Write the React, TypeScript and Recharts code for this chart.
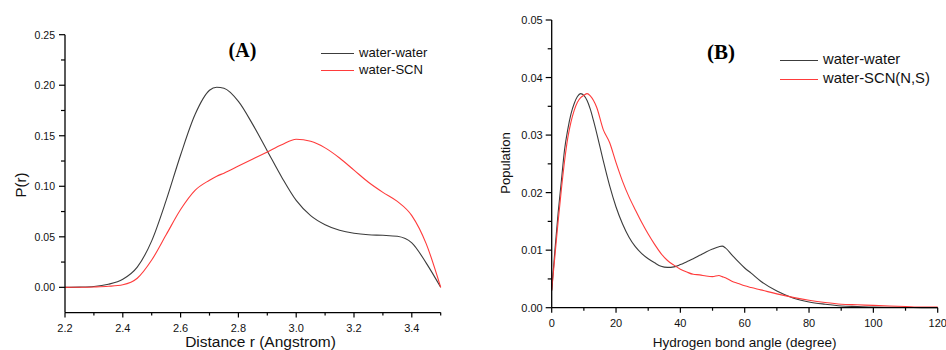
import React from 'react';
import { LineChart, Line, XAxis, YAxis } from 'recharts';

// ---------- Panel A: distance distribution ----------
const distA = [2.2, 2.25, 2.3, 2.35, 2.4, 2.45, 2.5, 2.55, 2.6, 2.65, 2.7, 2.725, 2.75, 2.8, 2.85, 2.9, 2.95, 3.0, 3.05, 3.1, 3.15, 3.2, 3.25, 3.3, 3.35, 3.4, 3.45, 3.5];
const waterWaterA = [0, 0.0002, 0.0008, 0.003, 0.008, 0.02, 0.046, 0.086, 0.131, 0.171, 0.195, 0.198, 0.197, 0.184, 0.161, 0.135, 0.109, 0.086, 0.071, 0.062, 0.0565, 0.0535, 0.052, 0.0515, 0.0505, 0.044, 0.024, 0];
const waterScnA = [0, 0.0001, 0.0004, 0.001, 0.0025, 0.009, 0.027, 0.052, 0.077, 0.096, 0.106, 0.11, 0.113, 0.12, 0.127, 0.134, 0.141, 0.1465, 0.1445, 0.138, 0.128, 0.116, 0.104, 0.094, 0.085, 0.071, 0.043, 0];

const xMajorA = [2.2, 2.4, 2.6, 2.8, 3.0, 3.2, 3.4];
const xMinorA = [2.3, 2.5, 2.7, 2.9, 3.1, 3.3, 3.5];
const yMajorA = [0, 0.05, 0.1, 0.15, 0.2, 0.25];
const yMinorA = [0.025, 0.075, 0.125, 0.175, 0.225];

// ---------- Panel B: hydrogen bond angle distribution ----------
const angleB = [0, 1, 2, 3, 4, 5, 6, 7, 8, 9, 10, 11, 12, 13, 14, 16, 18, 20, 22, 24, 26, 28, 30, 32, 34, 36, 38, 40, 42, 44, 46, 48, 50, 52, 53, 54, 56, 58, 60, 62, 65, 70, 75, 80, 85, 90, 95, 100, 105, 110, 115, 120];
const waterWaterB = [0.003, 0.01, 0.0165, 0.022, 0.0275, 0.031, 0.0337, 0.0355, 0.0367, 0.0372, 0.0369, 0.036, 0.0345, 0.0325, 0.0303, 0.0256, 0.0212, 0.0175, 0.0146, 0.0123, 0.0106, 0.0094, 0.0085, 0.0078, 0.0072, 0.007, 0.0071, 0.0075, 0.008, 0.0085, 0.0091, 0.0097, 0.0102, 0.0106, 0.0107, 0.0104, 0.0092, 0.008, 0.0069, 0.006, 0.0046, 0.0029, 0.0017, 0.001, 0.0006, 0.0003, 0.0002, 0.0001, 0.00007, 0.00004, 0.00002, 0.00001];
const waterScnB = [0.003, 0.009, 0.015, 0.0205, 0.0255, 0.0295, 0.0323, 0.0343, 0.0357, 0.0365, 0.0369, 0.0372, 0.0368, 0.036, 0.0348, 0.031, 0.0287, 0.0252, 0.022, 0.0193, 0.017, 0.0148, 0.0128, 0.011, 0.0094, 0.0082, 0.0074, 0.0067, 0.0062, 0.0058, 0.0057, 0.0055, 0.0054, 0.0056, 0.0054, 0.0052, 0.0046, 0.0042, 0.0038, 0.0035, 0.0031, 0.0024, 0.0018, 0.0013, 0.0009, 0.0006, 0.0005, 0.0004, 0.0003, 0.0002, 0.0001, 0.0001];

const xMajorB = [0, 20, 40, 60, 80, 100, 120];
const xMinorB = [10, 30, 50, 70, 90, 110];
const yMajorB = [0, 0.01, 0.02, 0.03, 0.04, 0.05];
const yMinorB = [0.005, 0.015, 0.025, 0.035, 0.045];

const dataA = distA.map((r, i) => ({ r, ww: waterWaterA[i], ws: waterScnA[i] }));
const dataB = angleB.map((a, i) => ({ a, ww: waterWaterB[i], ws: waterScnB[i] }));

const FONT = "'Liberation Sans', Arial, sans-serif";
const BLACK_LINE = '#3c3c3c';
const RED_LINE = '#ff3b3b';

const isIn = (arr: number[], v: number) => arr.some((m) => Math.abs(m - v) < 1e-9);

const makeXTick = (majors: number[], fmt: (v: number) => string, fontSize: number, gap: number) =>
  (props: any) => {
    const { x, y, payload } = props;
    const v = payload.value;
    const major = isIn(majors, v);
    return (
      <g>
        <line x1={x} y1={y} x2={x} y2={y + (major ? 5 : 3)} stroke="#000" strokeWidth={1.2} />
        {major && (
          <text x={x} y={y + gap} textAnchor="middle" dominantBaseline="central" fontSize={fontSize} fontFamily={FONT} fill="#111">
            {fmt(v)}
          </text>
        )}
      </g>
    );
  };

const makeYTick = (majors: number[], fmt: (v: number) => string, fontSize: number, gap: number) =>
  (props: any) => {
    const { x, y, payload } = props;
    const v = payload.value;
    const major = isIn(majors, v);
    return (
      <g>
        <line x1={x} y1={y} x2={x - (major ? 6 : 4)} y2={y} stroke="#000" strokeWidth={1.2} />
        {major && (
          <text x={x - gap} y={y} textAnchor="end" dominantBaseline="central" fontSize={fontSize} fontFamily={FONT} fill="#111">
            {fmt(v)}
          </text>
        )}
      </g>
    );
  };

const XTickA = makeXTick(xMajorA, (v) => v.toFixed(1), 11, 15);
const YTickA = makeYTick(yMajorA, (v) => v.toFixed(2), 10.5, 10);
const XTickB = makeXTick(xMajorB, (v) => String(v), 11, 15);
const YTickB = makeYTick(yMajorB, (v) => v.toFixed(2), 11, 9);

const sortNum = (a: number[], b: number[]) => [...a, ...b].sort((p, q) => p - q);

const abs = (left: number, top: number, extra: React.CSSProperties = {}): React.CSSProperties => ({
  position: 'absolute',
  left,
  top,
  whiteSpace: 'nowrap',
  lineHeight: 1,
  ...extra,
});

const LegendRow = ({ x, y, len, color, label, fontSize }: { x: number; y: number; len: number; color: string; label: string; fontSize: number }) => (
  <>
    <div style={abs(x, y - 0.5, { width: len, height: 1.2, background: color })} />
    <div style={abs(x + len + 5, y, { transform: 'translateY(-52%)', fontSize, fontFamily: FONT, color: '#111' })}>{label}</div>
  </>
);

export default function App() {
  return (
    <div style={{ position: 'absolute', left: 0, top: 0, width: 946, height: 350, background: '#fff', overflow: 'hidden' }}>
      <div style={{ position: 'absolute', left: 0, top: 0 }}>
        <LineChart width={470} height={350} data={dataA} margin={{ top: 34.7, right: 29.3, bottom: 0, left: 0 }}>
          <XAxis
            dataKey="r"
            type="number"
            domain={[2.2, 3.5]}
            ticks={sortNum(xMajorA, xMinorA)}
            interval={0}
            tickSize={0}
            tickMargin={0}
            tickLine={false}
            tick={XTickA}
            height={37.4}
            axisLine={{ stroke: '#000', strokeWidth: 1.3 }}
          />
          <YAxis
            type="number"
            domain={[-0.025, 0.25]}
            ticks={sortNum(yMajorA, yMinorA)}
            interval={0}
            tickSize={0}
            tickMargin={0}
            tickLine={false}
            tick={YTickA}
            width={65}
            axisLine={{ stroke: '#000', strokeWidth: 1.3 }}
          />
          <Line type="monotone" dataKey="ww" name="water-water" stroke={BLACK_LINE} strokeWidth={1.1} dot={false} isAnimationActive={false} />
          <Line type="monotone" dataKey="ws" name="water-SCN" stroke={RED_LINE} strokeWidth={1.1} dot={false} isAnimationActive={false} />
        </LineChart>
      </div>

      <div style={{ position: 'absolute', left: 470, top: 0 }}>
        <LineChart width={476} height={350} data={dataB} margin={{ top: 20, right: 8.3, bottom: 0, left: 0 }}>
          <XAxis
            dataKey="a"
            type="number"
            domain={[0, 120]}
            ticks={sortNum(xMajorB, xMinorB)}
            interval={0}
            tickSize={0}
            tickMargin={0}
            tickLine={false}
            tick={XTickB}
            height={42.3}
            axisLine={{ stroke: '#000', strokeWidth: 1.3 }}
          />
          <YAxis
            type="number"
            domain={[0, 0.05]}
            ticks={sortNum(yMajorB, yMinorB)}
            interval={0}
            tickSize={0}
            tickMargin={0}
            tickLine={false}
            tick={YTickB}
            width={81.7}
            axisLine={{ stroke: '#000', strokeWidth: 1.3 }}
          />
          <Line type="monotone" dataKey="ww" name="water-water" stroke={BLACK_LINE} strokeWidth={1.1} dot={false} isAnimationActive={false} />
          <Line type="monotone" dataKey="ws" name="water-SCN(N,S)" stroke={RED_LINE} strokeWidth={1.1} dot={false} isAnimationActive={false} />
        </LineChart>
      </div>

      {/* Titles */}
      <div style={abs(242.5, 50, { transform: 'translate(-50%, -50%)', fontSize: 20, fontWeight: 'bold', fontFamily: "'Liberation Serif', 'Times New Roman', serif" })}>(A)</div>
      <div style={abs(721, 52, { transform: 'translate(-50%, -50%)', fontSize: 21, fontWeight: 'bold', fontFamily: "'Liberation Serif', 'Times New Roman', serif" })}>(B)</div>

      {/* Legends */}
      <LegendRow x={321} y={53.3} len={33} color={BLACK_LINE} label="water-water" fontSize={13.1} />
      <LegendRow x={321} y={70} len={33} color={RED_LINE} label="water-SCN" fontSize={13.1} />
      <LegendRow x={780} y={60} len={38} color={BLACK_LINE} label="water-water" fontSize={14.8} />
      <LegendRow x={780} y={79} len={38} color={RED_LINE} label="water-SCN(N,S)" fontSize={14.8} />

      {/* Axis titles */}
      <div style={abs(260.5, 341.5, { transform: 'translate(-50%, -50%)', fontSize: 15.5, fontFamily: FONT, color: '#111' })}>Distance r (Angstrom)</div>
      <div style={abs(20, 185, { transform: 'translate(-50%, -50%) rotate(-90deg)', fontSize: 15, fontFamily: FONT, color: '#111' })}>P(r)</div>
      <div style={abs(744.7, 342.5, { transform: 'translate(-50%, -50%)', fontSize: 13.5, fontFamily: FONT, color: '#111' })}>Hydrogen bond angle (degree)</div>
      <div style={abs(505, 163.3, { transform: 'translate(-50%, -50%) rotate(-90deg)', fontSize: 13, fontFamily: FONT, color: '#111' })}>Population</div>
    </div>
  );
}
